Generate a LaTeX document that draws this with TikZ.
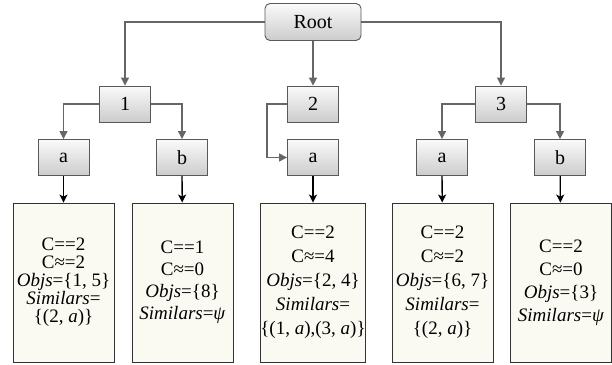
\documentclass[tikz,border=0pt]{standalone}
\usepackage{fontspec}
\setmainfont{Liberation Serif}
\usetikzlibrary{arrows.meta}
\definecolor{leafbg}{HTML}{FBFAF2}
\begin{document}
\begin{tikzpicture}[x=1pt,y=-1pt]
\tikzstyle{key}=[rectangle,draw=black!65,line width=0.9pt,top color=gray!4,bottom color=gray!40,minimum width=51pt,minimum height=36pt,inner sep=0pt,font=\fontsize{20}{20}\selectfont]
\tikzstyle{root}=[key,rounded corners=5pt,minimum width=96pt,minimum height=37pt]
\tikzstyle{leaf}=[rectangle,draw=black!80,line width=0.9pt,fill=leafbg,minimum width=101pt,minimum height=159pt,inner sep=0pt,align=center,font=\fontsize{19}{#1}\selectfont]
\tikzstyle{link}=[draw=black!60,line width=1.2pt,-{Triangle[length=8pt,width=8pt]}]
\tikzstyle{drop}=[draw=black,line width=1.3pt,-{Stealth[length=8pt,width=8pt,inset=2pt]}]
\useasboundingbox (0,0) rectangle (612,364);

\node[root](root) at (313,22) {Root};
\node[key](n1) at (125,104) {1};
\node[key](n2) at (313,104) {2};
\node[key](n3) at (501,104) {3};
\node[key](n1a) at (63.5,157.5) {a};
\node[key](n1b) at (182,157.5) {b};
\node[key](n2a) at (313,157.5) {a};
\node[key](n3a) at (442,157.5) {a};
\node[key](n3b) at (560,157.5) {b};

\node[leaf=18](l1a) at (63.5,282.5) {C==2\\C≈=2\\\textit{Objs}=\{1, 5\}\\\textit{Similars}=\\\{(2, \textit{a})\}};
\node[leaf=22](l1b) at (182.5,282.5) {C==1\\C≈=0\\\textit{Objs}=\{8\}\\\textit{Similars}=\textit{ψ}};
\node[leaf=24](l2a) at (313,282.5) {C==2\\C≈=4\\\textit{Objs}=\{2, 4\}\\\textit{Similars}=\\\{(1, \textit{a}),(3, \textit{a})\}};
\node[leaf=24](l3a) at (442.5,282.5) {C==2\\C≈=2\\\textit{Objs}=\{6, 7\}\\\textit{Similars}=\\\{(2, \textit{a})\}};
\node[leaf=23](l3b) at (561,282.5) {C==2\\C≈=0\\\textit{Objs}=\{3\}\\\textit{Similars}=\textit{ψ}};

\draw[link] (root.west) -| (n1);
\draw[link] (root) -- (n2);
\draw[link] (root.east) -| (n3);
\draw[link] (n1.west) -| (n1a);
\draw[link] (n1.east) -| (n1b);
\draw[link] (n2.west) -- ++(-20,0) |- (n2a);
\draw[link] (n3.west) -| (n3a);
\draw[link] (n3.east) -| (n3b);
\draw[drop] (n1a) -- (l1a);
\draw[drop] (n1b) -- (l1b);
\draw[drop] (n2a) -- (l2a);
\draw[drop] (n3a) -- (l3a);
\draw[drop] (n3b) -- (l3b);
\end{tikzpicture}
\end{document}
